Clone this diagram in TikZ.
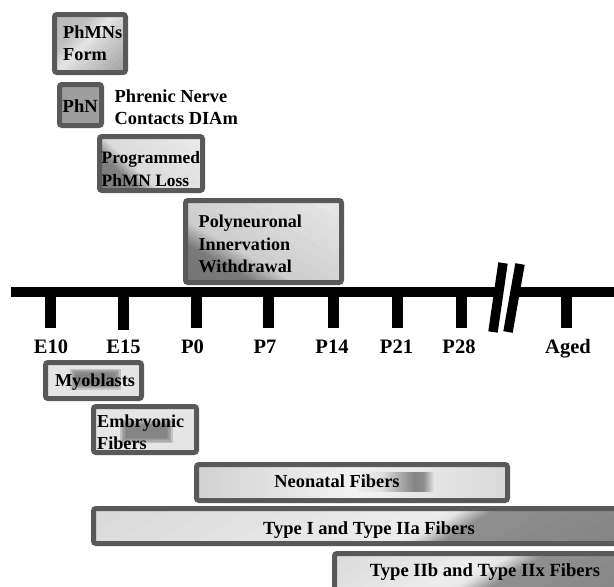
\documentclass[tikz,border=0pt]{standalone}
\usepackage{fontspec}
\setmainfont{Liberation Serif}
\usetikzlibrary{calc}
\definecolor{bd}{gray}{0.35}
\definecolor{phn}{gray}{0.62}
\definecolor{boxlite}{gray}{0.9}
\definecolor{blobc}{gray}{0.45}
% horizontal shadings: 0bp = left, 100bp = right (path spans 25bp..75bp)
\pgfdeclarehorizontalshading{shNeo}{100bp}{rgb(0bp)=(0.82,0.82,0.82); rgb(25bp)=(0.82,0.82,0.82); rgb(50bp)=(0.95,0.95,0.95); rgb(75bp)=(0.85,0.85,0.85); rgb(100bp)=(0.85,0.85,0.85)}
\pgfdeclarehorizontalshading{shNeoBlob}{100bp}{rgb(0bp)=(0.93,0.93,0.93); rgb(25bp)=(0.93,0.93,0.93); rgb(40bp)=(0.88,0.88,0.88); rgb(62bp)=(0.52,0.52,0.52); rgb(68bp)=(0.55,0.55,0.55); rgb(75bp)=(0.9,0.9,0.9); rgb(100bp)=(0.9,0.9,0.9)}
% linear gradient built from thin strips inside a node's path picture
% #1,#2 = unit direction of the gradient (x right, y down); #3 = list p0/g0/p1/g1 (distance from centre / grey level)
\newcommand{\stripfill}[3]{%
  \foreach \pa/\ga/\pb/\gb in {#3}{%
    \foreach \i in {1,...,10}{%
      \pgfmathsetmacro{\qa}{(\pa)+((\pb)-(\pa))*(\i-1)/10}%
      \pgfmathsetmacro{\qb}{(\pa)+((\pb)-(\pa))*\i/10+0.4}%
      \pgfmathsetmacro{\gg}{(\ga)+((\gb)-(\ga))*(\i-0.5)/10}%
      \definecolor{stripcol}{gray}{\gg}%
      \fill[stripcol, draw=none]
        ($(path picture bounding box.center)+({\qa*(#1)-500*(#2)},{\qa*(#2)+500*(#1)})$) --
        ($(path picture bounding box.center)+({\qb*(#1)-500*(#2)},{\qb*(#2)+500*(#1)})$) --
        ($(path picture bounding box.center)+({\qb*(#1)+500*(#2)},{\qb*(#2)-500*(#1)})$) --
        ($(path picture bounding box.center)+({\qa*(#1)+500*(#2)},{\qa*(#2)-500*(#1)})$) -- cycle;
    }%
  }%
}
% soft-edged grey blob: #1,#2 = corners of its outer edge
\newcommand{\softblob}[4]{%
  \foreach \k in {0,...,4}{%
    \fill[blobc, opacity=0.3] ({#1+1.6*\k},{#2+1.3*\k}) rectangle ({#3-1.6*\k},{#4-1.3*\k});
  }%
}
\begin{document}
\begin{tikzpicture}[x=1pt,y=-1pt,
  bx/.style={draw=bd, line width=5pt, rounded corners=2.5pt, inner sep=0pt},
  txt/.style={font=\fontsize{#1}{22.3}\selectfont\bfseries, inner sep=0pt, align=left},
  txt/.default=18.3,
  lab/.style={font=\fontsize{20.5}{24}\selectfont\bfseries, inner sep=0pt, anchor=base},
  axisline/.style={line width=10pt, line cap=butt},
  tickmark/.style={line width=11pt, line cap=butt},
  brk/.style={line width=9.5pt, line cap=butt}]
\useasboundingbox (0,0) rectangle (614,587);
\clip (0,0) rectangle (614,587);
\fill[white] (0,0) rectangle (614,587);

% ---- upper boxes (nerve events)
\node[bx, minimum width=71pt, minimum height=58pt,
  path picture={\stripfill{0.707}{0.707}{-60/0.72/-20/0.74, -20/0.74/-3/0.9, -3/0.9/12/0.8, 12/0.8/60/0.55}}] (bPhM) at (90,43.5) {};
\node[txt=18.3, anchor=north west] (tPhM) at (63,25.5) {PhMNs\\Form};

\node[bx, fill=phn, minimum width=42pt, minimum height=41pt] (bPhN) at (80.5,105) {};
\node[txt=18.5, anchor=base west] (tPhN) at (62.5,112.5) {PhN};
\node[txt=18.4, anchor=north west] (tPhr) at (114.5,89.5) {Phrenic Nerve\\Contacts DIAm};

\node[bx, minimum width=103pt, minimum height=54pt,
  path picture={\stripfill{0.69}{-0.72}{-70/0.47/-28/0.5, -28/0.5/-14/0.86, -14/0.86/70/0.93}}] (bProg) at (151,163.5) {};
\node[txt=17.4, anchor=north west] (tProg) at (101.5,151.5) {Programmed\\PhMN Loss};

\node[bx, minimum width=156pt, minimum height=82pt,
  path picture={\stripfill{0.495}{-0.869}{-90/0.44/-40/0.48, -40/0.48/-20/0.8, -20/0.8/90/0.93}}] (bPoly) at (263.5,241.5) {};
\node[txt=18.1, anchor=north west] (tPoly) at (198.5,215.2) {Polyneuronal\\Innervation\\Withdrawal};

% ---- time axis
\coordinate (axL) at (11,292);
\coordinate (brA) at (499,292);
\coordinate (brB) at (515,292);
\coordinate (axR) at (614,292);
\draw[axisline] (axL) -- (brA);
\draw[axisline] (brB) -- (axR);
\coordinate (brAtop) at (503,263);
\coordinate (brAbot) at (493,332);
\coordinate (brBtop) at (520,264);
\coordinate (brBbot) at (508,332);
\draw[brk] (brAtop) -- (brAbot);
\draw[brk] (brBtop) -- (brBbot);

\foreach \x/\n/\b in {50/E10/328, 123/E15/330, 196/P0/328, 268/P7/328, 333/P14/328, 397/P21/328, 461/P28/328, 566/Aged/328}{
  \coordinate (tt\n) at (\x,292);
  \coordinate (tb\n) at (\x,\b);
  \draw[tickmark] (tt\n) -- (tb\n);
}
\node[lab] (lE10) at (51,353) {E10};
\node[lab] (lE15) at (123.5,353) {E15};
\node[lab] (lP0) at (192.5,353) {P0};
\node[lab] (lP7) at (265,353) {P7};
\node[lab] (lP14) at (332,353) {P14};
\node[lab] (lP21) at (396.5,353) {P21};
\node[lab] (lP28) at (459,353) {P28};
\node[lab] (lAged) at (568,353) {Aged};

% ---- lower boxes (muscle fibers)
\node[bx, fill=boxlite, minimum width=96pt, minimum height=36pt] (bMyo) at (93.5,380.5) {};
\softblob{70}{368.5}{121}{389.5}
\node[txt=18.2, anchor=base] (tMyo) at (95,386.7) {Myoblasts};

\node[bx, fill=boxlite, minimum width=103pt, minimum height=46pt] (bEmb) at (145,429.5) {};
\softblob{120}{420}{173}{443}
\node[txt=18.2, anchor=north west] (tEmb) at (97,414.5) {Embryonic\\Fibers};

\node[bx, shade, shading=shNeo, minimum width=311pt, minimum height=36pt] (bNeo) at (352,482.5) {};
\shade[shading=shNeoBlob] (358,472) rectangle (434,491);
\node[txt=18.4, anchor=base] (tNeo) at (337,487.7) {Neonatal Fibers};

\node[bx, minimum width=556.5pt, minimum height=35pt,
  path picture={\stripfill{0.517}{0.856}{-180/0.84/25/0.93, 25/0.93/33/0.9, 33/0.9/50/0.56, 50/0.56/180/0.5}}] (bT1) at (371.75,526) {};
\node[txt=18.5, anchor=base] (tT1) at (369,534) {Type I and Type IIa Fibers};

\node[bx, minimum width=315.5pt, minimum height=66.5pt,
  path picture={\stripfill{0.517}{0.856}{-130/0.84/-25/0.93, -25/0.93/-17/0.9, -17/0.9/0/0.56, 0/0.56/130/0.5}}] (bT2) at (492.25,586.75) {};
\node[txt=18.6, anchor=base] (tT2) at (485,576.7) {Type IIb and Type IIx Fibers};
\end{tikzpicture}
\end{document}
